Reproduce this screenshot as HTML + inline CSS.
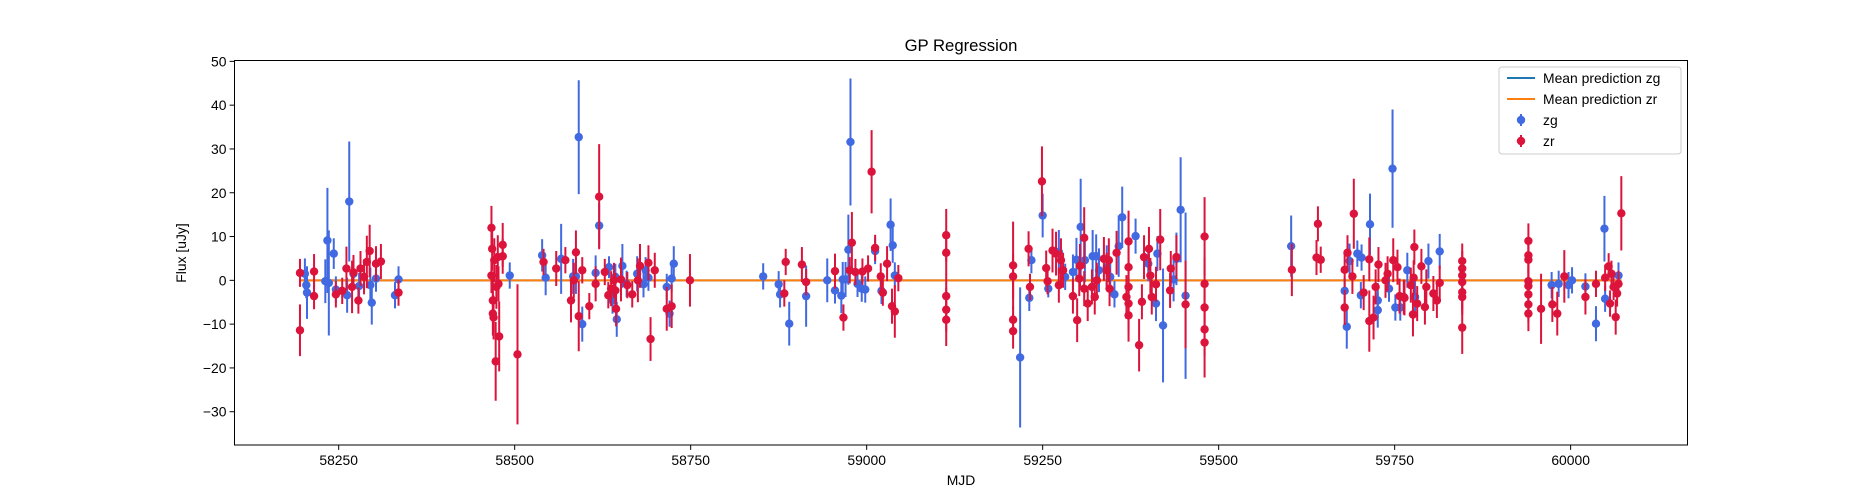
<!DOCTYPE html>
<html><head><meta charset="utf-8"><style>
body{margin:0;background:#fff;}
svg{display:block;font-family:"Liberation Sans","DejaVu Sans",sans-serif;}
</style></head><body>
<svg id="chart" width="1875" height="500" xmlns="http://www.w3.org/2000/svg">
<rect x="0" y="0" width="1875" height="500" fill="#fff"/>
<text x="961" y="51" font-size="16.7" text-anchor="middle">GP Regression</text>
<text x="961" y="485" font-size="13.9" text-anchor="middle">MJD</text>
<text x="0" y="0" font-size="13.9" text-anchor="middle" transform="translate(186,253) rotate(-90)">Flux [uJy]</text>
<g id="ticks"></g>
<g id="plot"></g>
<rect x="234.5" y="60.5" width="1453" height="384.5" fill="none" stroke="#000" stroke-width="1"/>
<g>
<rect x="1499" y="67" width="182" height="87" rx="3" fill="#fff" fill-opacity="0.8" stroke="#ccc"/>
<line x1="1507" y1="78" x2="1535" y2="78" stroke="#1f77b4" stroke-width="2"/>
<text x="1543" y="83" font-size="13.9">Mean prediction zg</text>
<line x1="1507" y1="99" x2="1535" y2="99" stroke="#ff7f0e" stroke-width="2"/>
<text x="1543" y="104" font-size="13.9">Mean prediction zr</text>
<line x1="1521" y1="114" x2="1521" y2="126" stroke="#4169e1" stroke-width="2"/>
<circle cx="1521" cy="120" r="4.2" fill="#4169e1"/>
<text x="1543" y="125" font-size="13.9">zg</text>
<line x1="1521" y1="135" x2="1521" y2="147" stroke="#dc143c" stroke-width="2"/>
<circle cx="1521" cy="141" r="4.2" fill="#dc143c"/>
<text x="1543" y="146" font-size="13.9">zr</text>
</g>
</svg>
<script>
const xTicks = [58250, 58500, 58750, 59000, 59250, 59500, 59750, 60000];
const yTicks = [-30, -20, -10, 0, 10, 20, 30, 40, 50];
const meanRange = [58195, 60072];
const meanG = [0, 0];
const meanR = [0, 0];
const gMjd = [58202,58204,58205,58231,58234,58236,58243,58246,58262,58265,58271,58279,58295,58297,58303,58330,58335,
58493,58539,58544,58566,58583,58587,58591,58596,58615,58620,58634,58639,58643,58645,58653,58659,58674,58683,58686,58690,58716,58720,58723,58726,
58853,58875,58877,58890,58914,58944,58955,58964,58966,58970,58974,58977,58987,58993,58998,59012,59021,59034,59037,59040,
59218,59234,59231,59250,59258,59273,59282,59293,59298,59304,59310,59321,59326,59330,59341,59346,59352,59358,59363,59382,59400,59411,59413,59421,59436,59440,59446,59453,
59603,59679,59682,59686,59697,59703,59702,59715,59726,59726,59742,59747,59751,59758,59768,59779,59798,59814,59973,59983,59997,60002,60021,60036,60048,60049,60068];
const gFlux = [1.5,-1.1,-2.8,-0.2,9.1,-0.6,6.1,-2.1,-3.4,18,1.5,-1.3,-1.1,-5.1,0.4,-3.4,0.2,
1.1,5.7,0.6,4.9,0.9,0.9,32.7,-10,1.7,12.5,3,-4.6,0.8,-8.9,3.3,-0.8,1.5,-0.9,2.3,0.6,-1.5,-7.6,0.4,3.8,
0.9,-0.9,-3.2,-9.9,-3.6,0,-2.3,-3.5,0.2,0.2,7,31.6,-0.8,-1.9,-2.1,6.7,-2.4,12.7,8,1.1,
-17.6,4.6,-4,14.8,-1.9,6.5,0.8,1.9,4.7,12.2,4.6,5.5,5.5,2.3,3,0.8,-3.2,7.8,14.4,10.1,3.8,-5.3,6.1,-10.3,0.2,4.9,16.1,-3.5,
7.8,-2.4,-10.6,4.4,6.1,5.2,-3.4,12.8,-4.6,-6.8,-1.9,25.5,-6.2,-6.2,2.3,-3.8,4.4,6.6,-1.1,-0.8,-1.1,0,-1.4,-9.9,11.8,-4.2,1.1];
const gErr = [3.5,3,6,5,12,12,3.5,3,4,13.7,3,3,4,5,3,3,3,
3,3.7,4,8,4,4,13,4,4,5,2.5,3,3,4,5,3,4,3,3,3,3,3,3,4,
3,3,3,5,7,5,3,4,4,4,8,14.5,3,3,3,3,3,6,4,3,
16,3,3,5,2,5,3,4,5,11,5,6,5,5,5,4,3,7,7,4,4,4,4,13,5,6,12,19,
7,3,5,4,3,3,3,7,4,4,3,13.5,3,3,4,4,4,4,3,3,3,3,3,4,7.5,3,3];
const rMjd = [58195,58195,58215,58215,58246,58255,58261,58269,58271,58278,58281,58286,58290,58294,58303,58310,58335,
58467,58468,58467,58469,58469,58470,58473,58471,58476,58477,58474,58478,58483,58483,58504,
58541,58559,58572,58580,58584,58587,58591,58596,58606,58615,58620,58628,58633,58637,58641,58643,58644,58651,58660,58667,58675,58678,58690,58693,58699,58716,58723,58749,
58883,58885,58908,58914,58955,58967,58976,58979,58984,58994,59002,59007,59012,59020,59023,59029,59036,59040,59045,
59113,59113,59113,59113,59113,
59208,59208,59208,59208,59230,59232,59249,59255,59257,59264,59269,59273,59276,59279,59293,59299,59302,59303,59309,59309,59314,59320,59324,59327,59337,59341,59344,59345,59355,59372,59372,59372,59372,59372,59369,59387,59391,59394,59401,59403,59405,59411,59417,59431,59432,59440,59453,59480,59480,59480,59480,59480,
59604,59641,59639,59645,59679,59679,59683,59690,59692,59706,59714,59714,59720,59723,59727,59737,59740,59748,59754,59757,59764,59773,59776,59778,59782,59777,59788,59793,59795,59805,59810,59814,59763,
59846,59846,59846,59846,59846,59846,59846,
59940,59940,59940,59940,59940,59940,59940,59940,
59958,59974,59981,59991,60021,60036,60049,60054,60058,60061,60056,60064,60068,60072,60066];
const rFlux = [1.7,-11.4,2,-3.6,-3.2,-2.4,2.7,-1.5,1.8,-4.6,2.7,0.8,4.2,6.7,3.8,4.3,-2.8,
12,7.2,1.1,-4.6,-7.6,-8.5,-18.5,4.6,5.3,-0.8,-1.5,-12.8,8.1,5.5,-16.9,
4.2,2.7,4.6,-4.6,0,6.4,-8.2,2.3,-5.9,-0.8,19.1,1.9,-3.4,-1.9,0,-2.3,-6.5,0.2,-1.1,-3.2,0,3.3,4,-13.4,2.3,-6.5,-5.9,0,
-3,4.2,3.6,-0.4,2.1,-8.5,2.3,8.6,1.9,2,2.7,24.8,7.4,0.9,-2.8,3.8,-5.9,-7.1,0.5,
10.3,6.3,-3.6,-6.7,-9,
3.4,0.9,-9,-11.6,7.2,-1.5,22.6,2.8,-0.2,6.8,6.1,-1.1,4.6,2.3,-3.6,-9.1,0.4,3.3,9.7,-1.9,-5.3,-1.5,-3.8,0,4.9,2.3,4.6,-1.9,6.3,8.9,3,-1.5,-5.3,-8,-3.8,-14.8,-4.9,5.3,7.2,1.1,-3.8,-0.9,9.3,-2.3,2.7,5.3,-5.5,10,-0.8,-6.2,-11.2,-14.2,
2.4,12.9,5.2,4.7,2.4,-6.2,6.3,0.9,15.2,-2.8,4.8,-9.3,-8.5,-1.5,3.6,0,1.5,4.6,3,-3.6,-4,-1.1,-7.8,7.6,-5.3,0.6,3.2,-6.1,-1.5,-3,-4.6,-0.6,-3.8,
4.4,2.7,1.1,-0.4,-2.7,-3.8,-10.8,
9,5.7,4.7,-0.2,-1.3,-3.2,-5.5,-7.6,
-6.5,-5.5,-7.6,0.9,-3.8,-0.8,0.6,3.2,1.5,-1.5,-5.3,-8.4,-0.8,15.3,-3];
const rErr = [3.2,5.9,4,3,3,3,5,6,4,3,4,4,6,6,4,4,3,
5,5,4,5,5,5,9,5,5,4,5,8,5,4,16,
3,4,3,5,4,5,8,3,3,4,12,3,3,4,4,4,4,5,3,3,5,5,4,5,4,5,5,6,
3,3,4,3,4,3,3,7,3,3,3,9.5,3,3,3,4,4,6,3,
6,5,5,5,6,
10,5,3,4,4,3,8,4,3,5,5,4,5,4,4,5,4,5,7,4,4,4,4,4,5,4,5,4,5,7,6,6,6,6,5,6,4,5,5,4,4,4,7,4,4,5,10,9,6,6,6,8,
6,4,4,3,4,4,4,4,8,4,5,7,5,4,4,4,4,5,4,4,4,4,5,4,4,4,4,4,4,4,4,4,4,
4,4,4,4,4,4,6,
4,4,4,4,4,4,4,4,
8,4,5,6,4,3,3,3,3,3,3,4,3,8.5,3];

const X0 = 234.5, X1 = 1687.5, Y0 = 60.5, Y1 = 445;
const xMin = 58102, xMax = 60166, yMin = -37.6, yMax = 50.2;
function sx(v){ return X0 + (v - xMin) / (xMax - xMin) * (X1 - X0); }
function sy(v){ return Y1 - (v - yMin) / (yMax - yMin) * (Y1 - Y0); }
const NS = "http://www.w3.org/2000/svg";
function mk(tag, attrs, parent){ const e = document.createElementNS(NS, tag); for (const k in attrs) e.setAttribute(k, attrs[k]); parent.appendChild(e); return e; }
const ticks = document.getElementById('ticks');
const plot = document.getElementById('plot');
xTicks.forEach(t => {
  const x = sx(t);
  const l = mk('line', {x1:x, y1:Y1, x2:x, y2:Y1+4.9, stroke:'#000', 'stroke-width':1}, ticks);
  
  
  const tx = mk('text', {x:x, y:Y1+20, 'font-size':13.9, 'text-anchor':'middle'}, ticks);
  tx.textContent = t;
  
  
});
yTicks.forEach(t => {
  const y = sy(t);
  const l = mk('line', {x1:X0-4.9, y1:y, x2:X0, y2:y, stroke:'#000', 'stroke-width':1}, ticks);
  
  
  const tx = mk('text', {x:X0-8, y:y+5, 'font-size':13.9, 'text-anchor':'end'}, ticks);
  tx.textContent = t < 0 ? '\u2212' + Math.abs(t) : t;
  
  
});
const lg = mk('line', {x1:sx(meanRange[0]), y1:sy(meanG[0]), x2:sx(meanRange[1]), y2:sy(meanG[1]), stroke:'#1f77b4', 'stroke-width':2}, plot);


const lr = mk('line', {x1:sx(meanRange[0]), y1:sy(meanR[0]), x2:sx(meanRange[1]), y2:sy(meanR[1]), stroke:'#ff7f0e', 'stroke-width':2}, plot);


function series(m, f, e, color, name){
  const g = mk('g', {}, plot);
  
  
  for (let i = 0; i < m.length; i++){
    const x = sx(m[i]);
    const b = mk('line', {x1:x, y1:sy(f[i]-e[i]), x2:x, y2:sy(f[i]+e[i]), stroke:color, 'stroke-width':2}, g);
    
    
  }
  for (let i = 0; i < m.length; i++){
    const c = mk('circle', {cx:sx(m[i]), cy:sy(f[i]), r:4.2, fill:color}, g);
    
    
  }
}
series(gMjd, gFlux, gErr, '#4169e1', 'zg');
series(rMjd, rFlux, rErr, '#dc143c', 'zr');
</script>
</body></html>
